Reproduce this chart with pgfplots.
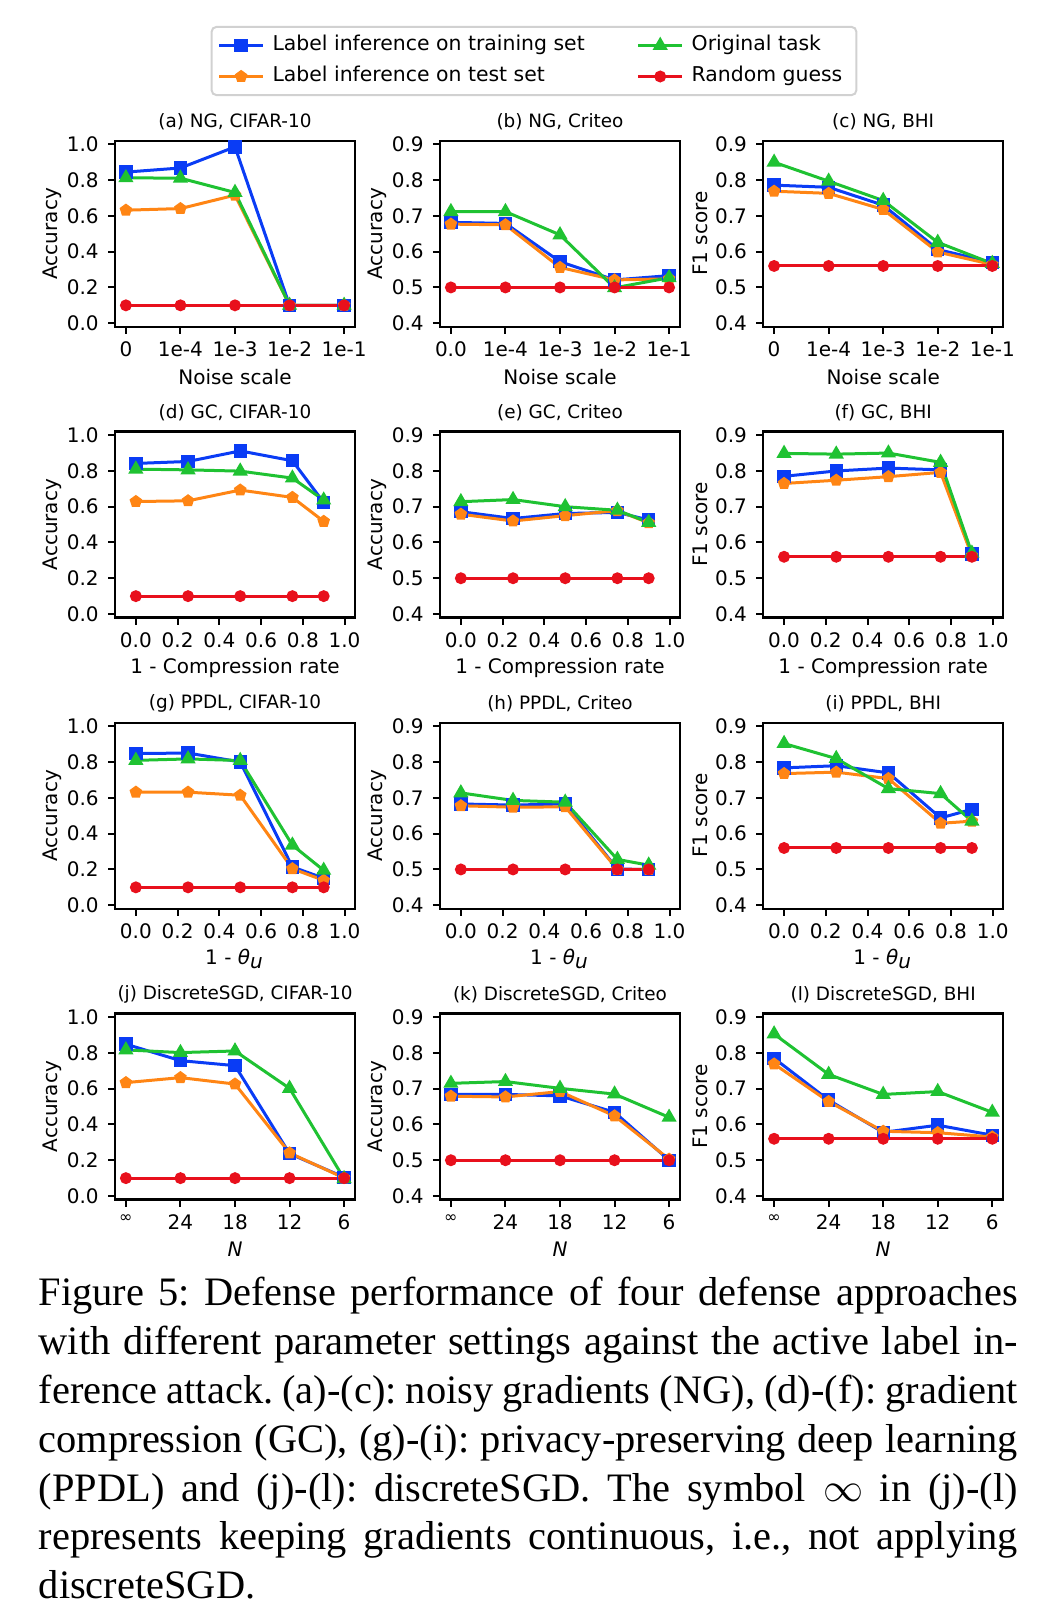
\documentclass[border=0pt]{standalone}
\usepackage{fontspec}
\setmainfont{Liberation Serif}
\newfontfamily\plotfont{DejaVu Sans}
\usepackage{pgfplots}
\pgfplotsset{compat=1.18}
\usetikzlibrary{plotmarks}

\definecolor{cTrain}{HTML}{0A3CF5}
\definecolor{cTest}{HTML}{FF8514}
\definecolor{cOrig}{HTML}{1FC232}
\definecolor{cRand}{HTML}{E8101C}

\newcommand\pf[1]{\plotfont\fontsize{#1}{#1}\selectfont}

\pgfplotsset{
  panel/.style={
    scale only axis, width=60pt, height=46.5pt,
    axis line style={line width=0.6pt},
    every tick/.style={black, line width=0.5pt},
    major tick length=1.75pt,
    tick align=outside, xtick pos=left, ytick pos=left,
    ticklabel style={font=\pf{5}},
    x tick label style={yshift=1.5pt},
    y tick label style={xshift=1.2pt},
    /pgf/number format/assume math mode=true,
    y tick label style={/pgf/number format/.cd, fixed, fixed zerofill, precision=1},
    label style={font=\pf{5}},
    ylabel style={at={(axis description cs:-0.26,0.5)}, anchor=center},
    xlabel style={at={(axis description cs:0.5,-0.269)}, anchor=center},
    every axis title/.style={at={(axis description cs:0.5,1.102)}, anchor=center, font=\pf{4.6}},
  },
  cifar/.style={ymin=-0.02, ymax=1.02, ytick={0,0.2,0.4,0.6,0.8,1.0}, ylabel=Accuracy},
  crit/.style={ymin=0.39, ymax=0.91, ytick={0.4,0.5,0.6,0.7,0.8,0.9}, ylabel=Accuracy},
  bhi/.style={ymin=0.39, ymax=0.91, ytick={0.4,0.5,0.6,0.7,0.8,0.9}, ylabel={F1 score}},
  cat/.style={xmin=-0.2, xmax=4.2, xtick={0,1,2,3,4}},
  frac/.style={xmin=-0.1, xmax=1.05, xtick={0,0.2,0.4,0.6,0.8,1.0},
    x tick label style={/pgf/number format/.cd, fixed, fixed zerofill, precision=1}},
  sTrain/.style={color=cTrain, line width=0.75pt, mark=square*, mark size=1.3pt},
  sTest/.style={color=cTest, line width=0.75pt, mark=pentagon*, mark size=1.2pt},
  sOrig/.style={color=cOrig, line width=0.75pt, mark=triangle*, mark size=1.45pt},
  sRand/.style={color=cRand, line width=0.75pt, mark=*, mark size=1.1pt},
}

\begin{document}
\begin{tikzpicture}
\useasboundingbox (0,0) rectangle (262pt,402.5pt);

% legend
\begin{axis}[at={(133.5pt,387.25pt)}, anchor=center, hide axis, scale only axis,
  width=1pt, height=1pt, xmin=0, xmax=1, ymin=0, ymax=1,
  legend columns=2, legend cell align=left,
  legend style={at={(0.5,0.5)}, anchor=center, font=\pf{5.1}, draw=black!18,
    line width=0.5pt, rounded corners=1.2pt, inner xsep=1.5pt, inner ysep=1.5pt,
    nodes={text height=3.9pt, text depth=1.2pt, inner ysep=0.6pt},
    row sep=1.45pt, /tikz/every even column/.append style={column sep=11pt}},
  legend image code/.code={\draw[mark repeat=2,mark phase=2,#1]
    plot coordinates {(0pt,0pt) (5.5pt,0pt) (11pt,0pt)};}]
\addlegendimage{sTrain}\addlegendentry{Label inference on training set}
\addlegendimage{sOrig}\addlegendentry{Original task}
\addlegendimage{sTest}\addlegendentry{Label inference on test set}
\addlegendimage{sRand}\addlegendentry{Random guess}
\end{axis}

% row 1: noisy gradients
\begin{axis}[panel, cifar, cat, at={(28.75pt,367.3pt)}, anchor=north west,
  xticklabels={0,1e-4,1e-3,1e-2,1e-1}, xlabel={Noise scale}, title={(a) NG, CIFAR-10}]
\addplot[sTrain] coordinates {(0,0.845) (1,0.868) (2,0.986) (3,0.10) (4,0.10)};
\addplot[sTest] coordinates {(0,0.632) (1,0.641) (2,0.716) (3,0.10) (4,0.10)};
\addplot[sOrig] coordinates {(0,0.813) (1,0.811) (2,0.731) (3,0.10) (4,0.10)};
\addplot[sRand] coordinates {(0,0.10) (1,0.10) (2,0.10) (3,0.10) (4,0.10)};
\end{axis}
\begin{axis}[panel, crit, cat, at={(110pt,367.3pt)}, anchor=north west,
  xticklabels={0.0,1e-4,1e-3,1e-2,1e-1}, xlabel={Noise scale}, title={(b) NG, Criteo}]
\addplot[sTrain] coordinates {(0,0.682) (1,0.679) (2,0.572) (3,0.521) (4,0.533)};
\addplot[sTest] coordinates {(0,0.677) (1,0.675) (2,0.556) (3,0.521) (4,0.524)};
\addplot[sOrig] coordinates {(0,0.712) (1,0.712) (2,0.647) (3,0.499) (4,0.527)};
\addplot[sRand] coordinates {(0,0.5) (1,0.5) (2,0.5) (3,0.5) (4,0.5)};
\end{axis}
\begin{axis}[panel, bhi, cat, at={(190.8pt,367.3pt)}, anchor=north west,
  xticklabels={0,1e-4,1e-3,1e-2,1e-1}, xlabel={Noise scale}, title={(c) NG, BHI}]
\addplot[sTrain] coordinates {(0,0.786) (1,0.780) (2,0.730) (3,0.606) (4,0.570)};
\addplot[sTest] coordinates {(0,0.769) (1,0.763) (2,0.718) (3,0.599) (4,0.564)};
\addplot[sOrig] coordinates {(0,0.850) (1,0.797) (2,0.743) (3,0.626) (4,0.567)};
\addplot[sRand] coordinates {(0,0.56) (1,0.56) (2,0.56) (3,0.56) (4,0.56)};
\end{axis}

% row 2: gradient compression
\begin{axis}[panel, cifar, frac, at={(28.75pt,294.6pt)}, anchor=north west,
  xlabel={1 - Compression rate}, title={(d) GC, CIFAR-10}]
\addplot[sTrain] coordinates {(0,0.842) (0.25,0.853) (0.5,0.912) (0.75,0.857) (0.9,0.624)};
\addplot[sTest] coordinates {(0,0.629) (0.25,0.633) (0.5,0.693) (0.75,0.652) (0.9,0.518)};
\addplot[sOrig] coordinates {(0,0.810) (0.25,0.806) (0.5,0.799) (0.75,0.760) (0.9,0.637)};
\addplot[sRand] coordinates {(0,0.10) (0.25,0.10) (0.5,0.10) (0.75,0.10) (0.9,0.10)};
\end{axis}
\begin{axis}[panel, crit, frac, at={(110pt,294.6pt)}, anchor=north west,
  xlabel={1 - Compression rate}, title={(e) GC, Criteo}]
\addplot[sTrain] coordinates {(0,0.686) (0.25,0.667) (0.5,0.681) (0.75,0.684) (0.9,0.663)};
\addplot[sTest] coordinates {(0,0.679) (0.25,0.660) (0.5,0.675) (0.75,0.689) (0.9,0.655)};
\addplot[sOrig] coordinates {(0,0.714) (0.25,0.720) (0.5,0.700) (0.75,0.690) (0.9,0.656)};
\addplot[sRand] coordinates {(0,0.5) (0.25,0.5) (0.5,0.5) (0.75,0.5) (0.9,0.5)};
\end{axis}
\begin{axis}[panel, bhi, frac, at={(190.8pt,294.6pt)}, anchor=north west,
  xlabel={1 - Compression rate}, title={(f) GC, BHI}]
\addplot[sTrain] coordinates {(0,0.785) (0.25,0.800) (0.5,0.808) (0.75,0.803) (0.9,0.568)};
\addplot[sTest] coordinates {(0,0.765) (0.25,0.774) (0.5,0.784) (0.75,0.796) (0.9,0.563)};
\addplot[sOrig] coordinates {(0,0.849) (0.25,0.847) (0.5,0.850) (0.75,0.824) (0.9,0.570)};
\addplot[sRand] coordinates {(0,0.56) (0.25,0.56) (0.5,0.56) (0.75,0.56) (0.9,0.56)};
\end{axis}

% row 3: PPDL
\begin{axis}[panel, cifar, frac, at={(28.75pt,221.8pt)}, anchor=north west,
  xlabel={1 - {\itshape θ}\textsubscript{\itshape u}}, title={(g) PPDL, CIFAR-10}]
\addplot[sTrain] coordinates {(0,0.848) (0.25,0.851) (0.5,0.801) (0.75,0.214) (0.9,0.151)};
\addplot[sTest] coordinates {(0,0.632) (0.25,0.632) (0.5,0.615) (0.75,0.204) (0.9,0.139)};
\addplot[sOrig] coordinates {(0,0.810) (0.25,0.818) (0.5,0.809) (0.75,0.336) (0.9,0.195)};
\addplot[sRand] coordinates {(0,0.10) (0.25,0.10) (0.5,0.10) (0.75,0.10) (0.9,0.10)};
\end{axis}
\begin{axis}[panel, crit, frac, at={(110pt,221.8pt)}, anchor=north west,
  xlabel={1 - {\itshape θ}\textsubscript{\itshape u}}, title={(h) PPDL, Criteo}]
\addplot[sTrain] coordinates {(0,0.683) (0.25,0.680) (0.5,0.683) (0.75,0.501) (0.9,0.500)};
\addplot[sTest] coordinates {(0,0.678) (0.25,0.674) (0.5,0.675) (0.75,0.500) (0.9,0.500)};
\addplot[sOrig] coordinates {(0,0.714) (0.25,0.693) (0.5,0.688) (0.75,0.528) (0.9,0.512)};
\addplot[sRand] coordinates {(0,0.5) (0.25,0.5) (0.5,0.5) (0.75,0.5) (0.9,0.5)};
\end{axis}
\begin{axis}[panel, bhi, frac, at={(190.8pt,221.8pt)}, anchor=north west,
  xlabel={1 - {\itshape θ}\textsubscript{\itshape u}}, title={(i) PPDL, BHI}]
\addplot[sTrain] coordinates {(0,0.784) (0.25,0.790) (0.5,0.770) (0.75,0.644) (0.9,0.668)};
\addplot[sTest] coordinates {(0,0.768) (0.25,0.772) (0.5,0.754) (0.75,0.629) (0.9,0.635)};
\addplot[sOrig] coordinates {(0,0.852) (0.25,0.810) (0.5,0.726) (0.75,0.712) (0.9,0.635)};
\addplot[sRand] coordinates {(0,0.56) (0.25,0.56) (0.5,0.56) (0.75,0.56) (0.9,0.56)};
\end{axis}

% row 4: discreteSGD
\begin{axis}[panel, cifar, cat, at={(28.75pt,149.1pt)}, anchor=north west,
  xticklabels={{\fontsize{4}{4}\selectfont ∞},24,18,12,6}, xlabel={\itshape N}, title={(j) DiscreteSGD, CIFAR-10}]
\addplot[sTrain] coordinates {(0,0.849) (1,0.757) (2,0.729) (3,0.237) (4,0.105)};
\addplot[sTest] coordinates {(0,0.634) (1,0.662) (2,0.626) (3,0.241) (4,0.101)};
\addplot[sOrig] coordinates {(0,0.817) (1,0.802) (2,0.811) (3,0.602) (4,0.097)};
\addplot[sRand] coordinates {(0,0.10) (1,0.10) (2,0.10) (3,0.10) (4,0.10)};
\end{axis}
\begin{axis}[panel, crit, cat, at={(110pt,149.1pt)}, anchor=north west,
  xticklabels={{\fontsize{4}{4}\selectfont ∞},24,18,12,6}, xlabel={\itshape N}, title={(k) DiscreteSGD, Criteo}]
\addplot[sTrain] coordinates {(0,0.684) (1,0.684) (2,0.680) (3,0.634) (4,0.500)};
\addplot[sTest] coordinates {(0,0.679) (1,0.677) (2,0.692) (3,0.624) (4,0.503)};
\addplot[sOrig] coordinates {(0,0.715) (1,0.720) (2,0.701) (3,0.685) (4,0.620)};
\addplot[sRand] coordinates {(0,0.5) (1,0.5) (2,0.5) (3,0.5) (4,0.5)};
\end{axis}
\begin{axis}[panel, bhi, cat, at={(190.8pt,149.1pt)}, anchor=north west,
  xticklabels={{\fontsize{4}{4}\selectfont ∞},24,18,12,6}, xlabel={\itshape N}, title={(l) DiscreteSGD, BHI}]
\addplot[sTrain] coordinates {(0,0.785) (1,0.668) (2,0.578) (3,0.598) (4,0.570)};
\addplot[sTest] coordinates {(0,0.769) (1,0.664) (2,0.581) (3,0.577) (4,0.565)};
\addplot[sOrig] coordinates {(0,0.853) (1,0.740) (2,0.684) (3,0.692) (4,0.634)};
\addplot[sRand] coordinates {(0,0.56) (1,0.56) (2,0.56) (3,0.56) (4,0.56)};
\end{axis}

% caption
\node[anchor=base west, inner sep=0pt] at (9.5pt,76pt) {\parbox[t]{244.75pt}{%
\fontsize{10.1}{12.2}\selectfont\frenchspacing
\hbox to\hsize{Figure 5: Defense performance of four defense approaches}
\hbox to\hsize{with different parameter settings against the active label in-}
\hbox to\hsize{ference attack. (a)-(c): noisy gradients (NG), (d)-(f): gradient}
\hbox to\hsize{compression (GC), (g)-(i): privacy-preserving deep learning}
\hbox to\hsize{(PPDL) and (j)-(l): discreteSGD. The symbol $\infty$ in (j)-(l)}
\hbox to\hsize{represents keeping gradients continuous, i.e., not applying}
\hbox{discreteSGD.}}};
\end{tikzpicture}
\end{document}
